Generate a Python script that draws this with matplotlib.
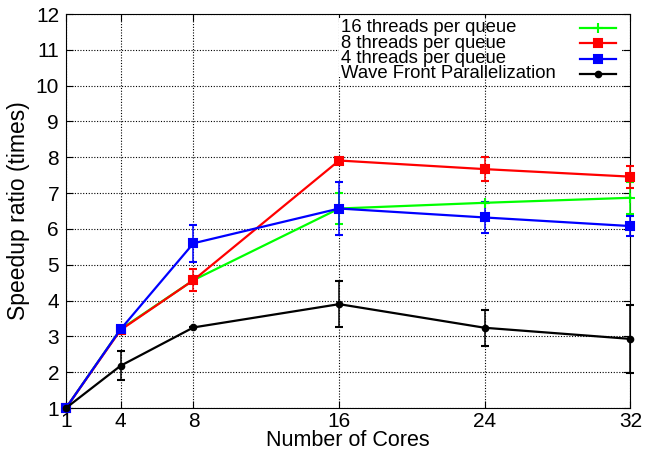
import matplotlib
matplotlib.use('Agg')
import matplotlib.pyplot as plt
from matplotlib.patches import Rectangle

plt.rcParams['font.family'] = ['Liberation Sans', 'DejaVu Sans']

# 数据
cores = [1, 4, 8, 16, 24, 32]

t16 = [1, 3.2, 4.57, 6.57, 6.73, 6.87]
t16_err = [0, 0, 0, 0.43, 0, 0.45]

t8 = [1, 3.18, 4.57, 7.91, 7.67, 7.46]
t8_err = [0, 0, 0.3, 0, 0.33, 0.31]

t4 = [1, 3.2, 5.6, 6.57, 6.32, 6.08]
t4_err = [0, 0, 0.52, 0.75, 0.43, 0.28]

wave = [1, 2.18, 3.25, 3.9, 3.24, 2.93]
wave_err = [0, 0.4, 0, 0.65, 0.5, 0.96]

labels = ['16 threads per queue', '8 threads per queue',
          '4 threads per queue', 'Wave Front Parallelization']

fig = plt.figure(figsize=(6.45, 4.53), dpi=100)
ax = fig.add_axes([0.1023, 0.0993, 0.8752, 0.8697])

series = [
    (t16, t16_err, '#00ff00', '+', 7),
    (t8, t8_err, '#ff0000', 's', 6),
    (t4, t4_err, '#0000ff', 's', 6),
    (wave, wave_err, '#000000', 'o', 4),
]
for vals, err, color, marker, ms in series:
    ax.errorbar(cores, vals, yerr=err, color=color, marker=marker, markersize=ms,
                linewidth=1.6, elinewidth=1.1, capsize=3, capthick=1.1,
                markeredgewidth=1.5, clip_on=False, zorder=3)

ax.set_xlim(1, 32)
ax.set_ylim(1, 12)
ax.set_xticks(cores)
ax.set_yticks(range(1, 13))
ax.tick_params(direction='in', labelsize=15, top=True, right=True, length=5, pad=5)
ax.tick_params(axis='x', pad=3)
ax.grid(True, linestyle=(0, (1, 1.5)), color='black', linewidth=0.8)

ax.set_xlabel('Number of Cores', fontsize=15.5, labelpad=-1)
ax.set_ylabel('Speedup ratio (times)', fontsize=16.5, labelpad=4)

# 图例（gnuplot 风格：文字左对齐，线段在右）
ax.add_patch(Rectangle((0.484, 0.84), 0.5, 0.15, transform=ax.transAxes,
                       facecolor='white', edgecolor='none', zorder=2))
ax.axvline(cores[4], ymin=0.84, ymax=0.99, linestyle=(0, (1, 1.5)),
           color='black', linewidth=0.8, zorder=2.1)
row_y = [0.965, 0.926, 0.887, 0.849]
for (vals, err, color, marker, ms), label, yy in zip(series, labels, row_y):
    ax.text(0.488, yy, label, transform=ax.transAxes, fontsize=13.3,
            ha='left', va='center', zorder=4)
    ax.plot([0.91, 0.975], [yy, yy], transform=ax.transAxes, color=color,
            linewidth=1.6, zorder=4, clip_on=False)
    ax.plot([0.9425], [yy], transform=ax.transAxes, color=color, marker=marker,
            markersize=ms, markeredgewidth=1.5, zorder=4, clip_on=False)

plt.savefig('out.png', dpi=100)
